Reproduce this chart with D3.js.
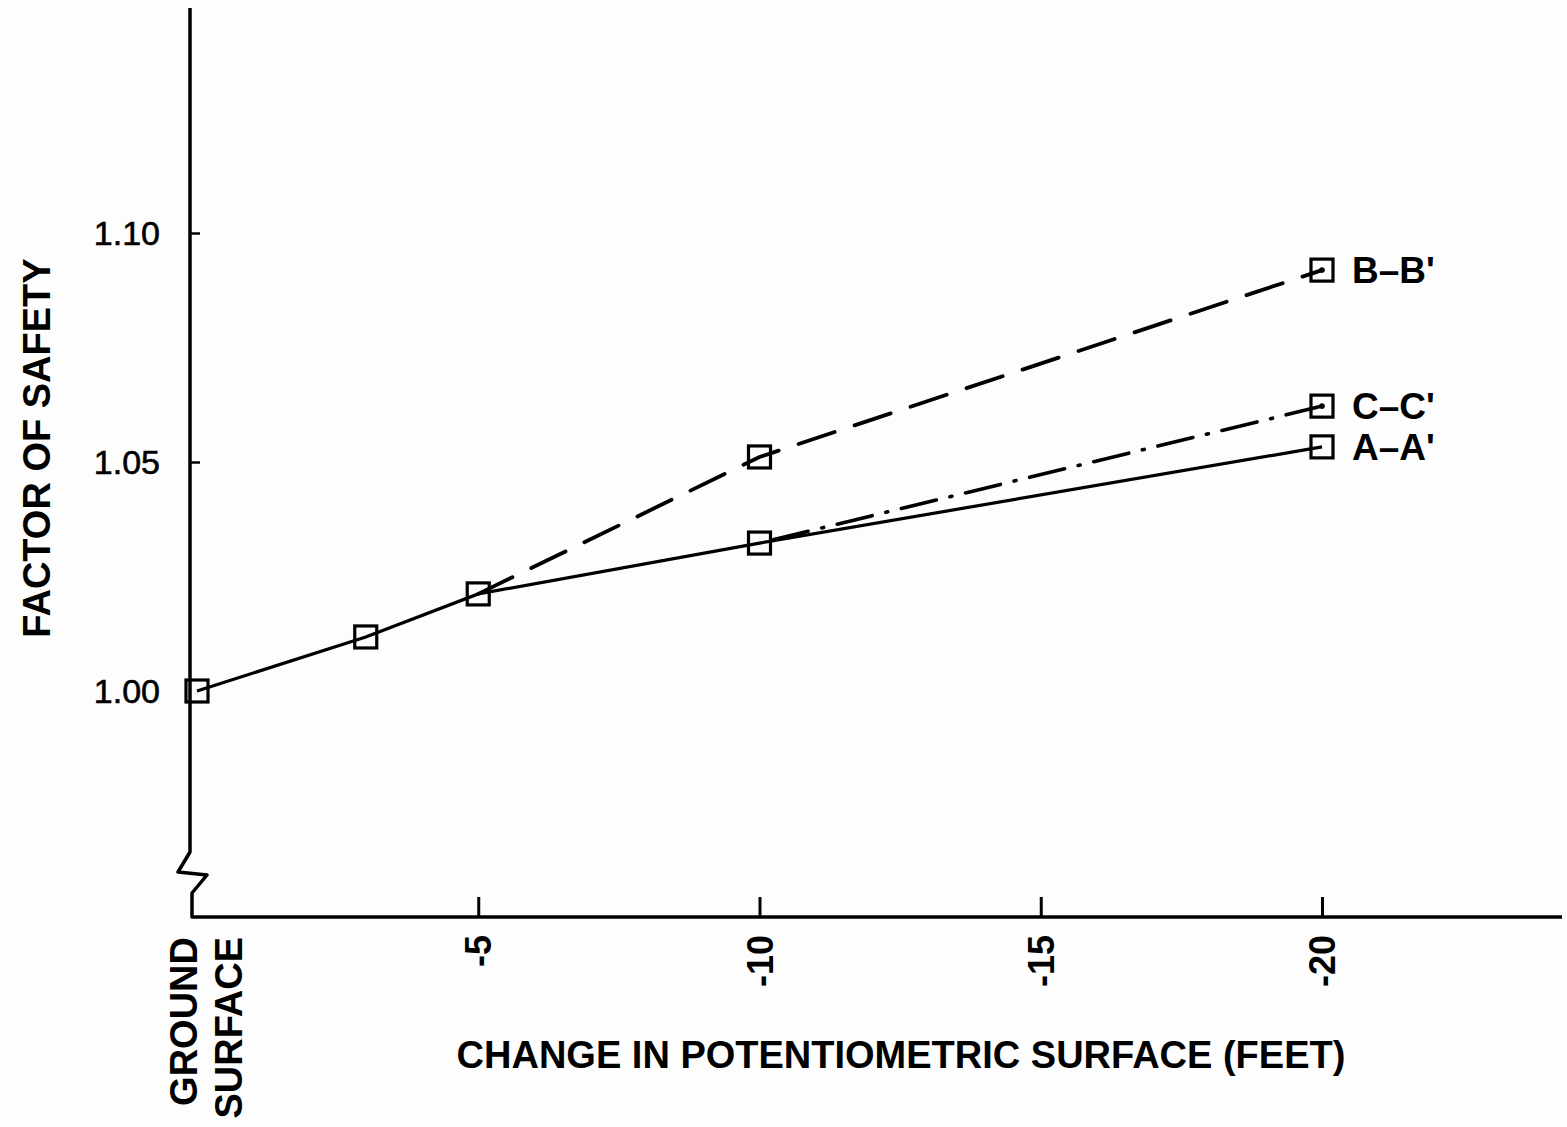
<!DOCTYPE html>
<html><head><meta charset="utf-8">
<script src="https://cdn.jsdelivr.net/npm/d3@7"></script>
<style>body{margin:0;background:#fdfdfd}svg{display:block}</style>
</head><body>
<script>
// Data
const xTicks = [0, -5, -10, -15, -20];
const xTickLabels = ["", "-5", "-10", "-15", "-20"];
const yTicks = [1.00, 1.05, 1.10];
const yTickLabels = ["1.00", "1.05", "1.10"];
const seriesA_x = [0, -3, -5, -10, -20];
const seriesA_y = [1.000, 1.0118, 1.0212, 1.0323, 1.0533];
const seriesB_x = [-5, -10, -20];
const seriesB_y = [1.0212, 1.0511, 1.0919];
const seriesC_x = [-10, -20];
const seriesC_y = [1.0323, 1.0622];
const seriesNames = ["A\u2013A'", "B\u2013B'", "C\u2013C'"];

const W = 1567, H = 1127;
const svg = d3.select("body").append("svg").attr("width", W).attr("height", H);
svg.append("rect").attr("width", W).attr("height", H).attr("fill", "#fdfdfd");

const x = d3.scaleLinear().domain([0, -20]).range([197, 1322]);
const y = d3.scaleLinear().domain([1.0, 1.1]).range([691, 233]);
const axisY = 917, axisX = 190;
const font = "'Liberation Sans', Arial, Helvetica, sans-serif";

// Y axis with break
svg.append("path")
  .attr("d", `M${axisX},8 L${axisX},852 L178,872 L207,875 L192,893 L192,${axisY} L1562,${axisY}`)
  .attr("fill", "none").attr("stroke", "#000").attr("stroke-width", 3.5).attr("stroke-linejoin", "round");

// Y ticks
const yAxis = d3.axisRight(y).tickValues(yTicks.slice(1)).tickSize(10).tickFormat("");
const gy = svg.append("g").attr("transform", `translate(${axisX},0)`).call(yAxis);
gy.select(".domain").remove();
gy.selectAll(".tick line").attr("stroke", "#000").attr("stroke-width", 2.5);
svg.selectAll(".ylab").data(yTicks).enter().append("text")
  .attr("x", 160).attr("y", d => y(d) + 12)
  .attr("text-anchor", "end").attr("font-family", font).attr("font-size", 34)
  .attr("fill", "#000").attr("stroke", "#000").attr("stroke-width", 0.6)
  .text((d, i) => yTickLabels[i]);

// X ticks
const xAxis = d3.axisTop(x).tickValues(xTicks.slice(1)).tickSize(20).tickFormat("");
const gx = svg.append("g").attr("transform", `translate(0,${axisY})`).call(xAxis);
gx.select(".domain").remove();
gx.selectAll(".tick line").attr("stroke", "#000").attr("stroke-width", 3);
svg.selectAll(".xlab").data(xTicks.slice(1)).enter().append("text")
  .attr("transform", d => `translate(${x(d) + 13},935) rotate(-90)`)
  .attr("text-anchor", "end").attr("font-family", font).attr("font-size", 36).attr("font-weight", "bold")
  .attr("fill", "#000").text((d, i) => xTickLabels[i + 1]);

// Ground surface label
svg.append("text").attr("transform", `translate(197,937) rotate(-90)`)
  .attr("text-anchor", "end").attr("font-family", font).attr("font-size", 38).attr("font-weight", "bold")
  .attr("fill", "#000").text("GROUND");
svg.append("text").attr("transform", `translate(242,937) rotate(-90)`)
  .attr("text-anchor", "end").attr("font-family", font).attr("font-size", 38).attr("font-weight", "bold")
  .attr("fill", "#000").text("SURFACE");

// Axis titles
svg.append("text").attr("x", 901).attr("y", 1068).attr("text-anchor", "middle")
  .attr("font-family", font).attr("font-size", 38).attr("font-weight", "bold").attr("fill", "#000")
  .text("CHANGE IN POTENTIOMETRIC SURFACE (FEET)");
svg.append("text").attr("transform", `translate(50,448) rotate(-90)`).attr("text-anchor", "middle")
  .attr("font-family", font).attr("font-size", 38).attr("font-weight", "bold").attr("fill", "#000")
  .text("FACTOR OF SAFETY");

// Lines
const line = d3.line().x(d => x(d[0])).y(d => y(d[1]));
const zip = (a, b) => a.map((v, i) => [v, b[i]]);
const dataA = zip(seriesA_x, seriesA_y), dataB = zip(seriesB_x, seriesB_y), dataC = zip(seriesC_x, seriesC_y);
svg.append("path").datum(dataA).attr("d", line).attr("fill", "none").attr("stroke", "#000").attr("stroke-width", 3.2);
svg.append("path").datum(dataB).attr("d", line).attr("fill", "none").attr("stroke", "#000").attr("stroke-width", 3.8)
  .attr("stroke-dasharray", "38 21").attr("stroke-linecap", "round");
svg.append("path").datum(dataC).attr("d", line).attr("fill", "none").attr("stroke", "#000").attr("stroke-width", 3.6)
  .attr("stroke-dasharray", "36 14 2 14").attr("stroke-linecap", "round").attr("stroke-dashoffset", -14);

// Markers
const all = dataA.concat(dataB.slice(1), dataC.slice(1));
svg.selectAll(".mk").data(all).enter().append("rect")
  .attr("x", d => x(d[0]) - 11).attr("y", d => y(d[1]) - 11).attr("width", 22).attr("height", 22)
  .attr("fill", "none").attr("stroke", "#000").attr("stroke-width", 3.2);
svg.selectAll(".dot").data([dataB[2], dataC[1]]).enter().append("circle")
  .attr("cx", d => x(d[0])).attr("cy", d => y(d[1])).attr("r", 2.8).attr("fill", "#000");

// Series labels
const labelData = [[dataA[4], seriesNames[0]], [dataB[2], seriesNames[1]], [dataC[1], seriesNames[2]]];
svg.selectAll(".sl").data(labelData).enter().append("text")
  .attr("x", d => x(d[0][0]) + 30).attr("y", d => y(d[0][1]) + 13)
  .attr("font-family", font).attr("font-size", 37).attr("font-weight", "bold").attr("fill", "#000")
  .text(d => d[1]);
</script>
</body></html>
